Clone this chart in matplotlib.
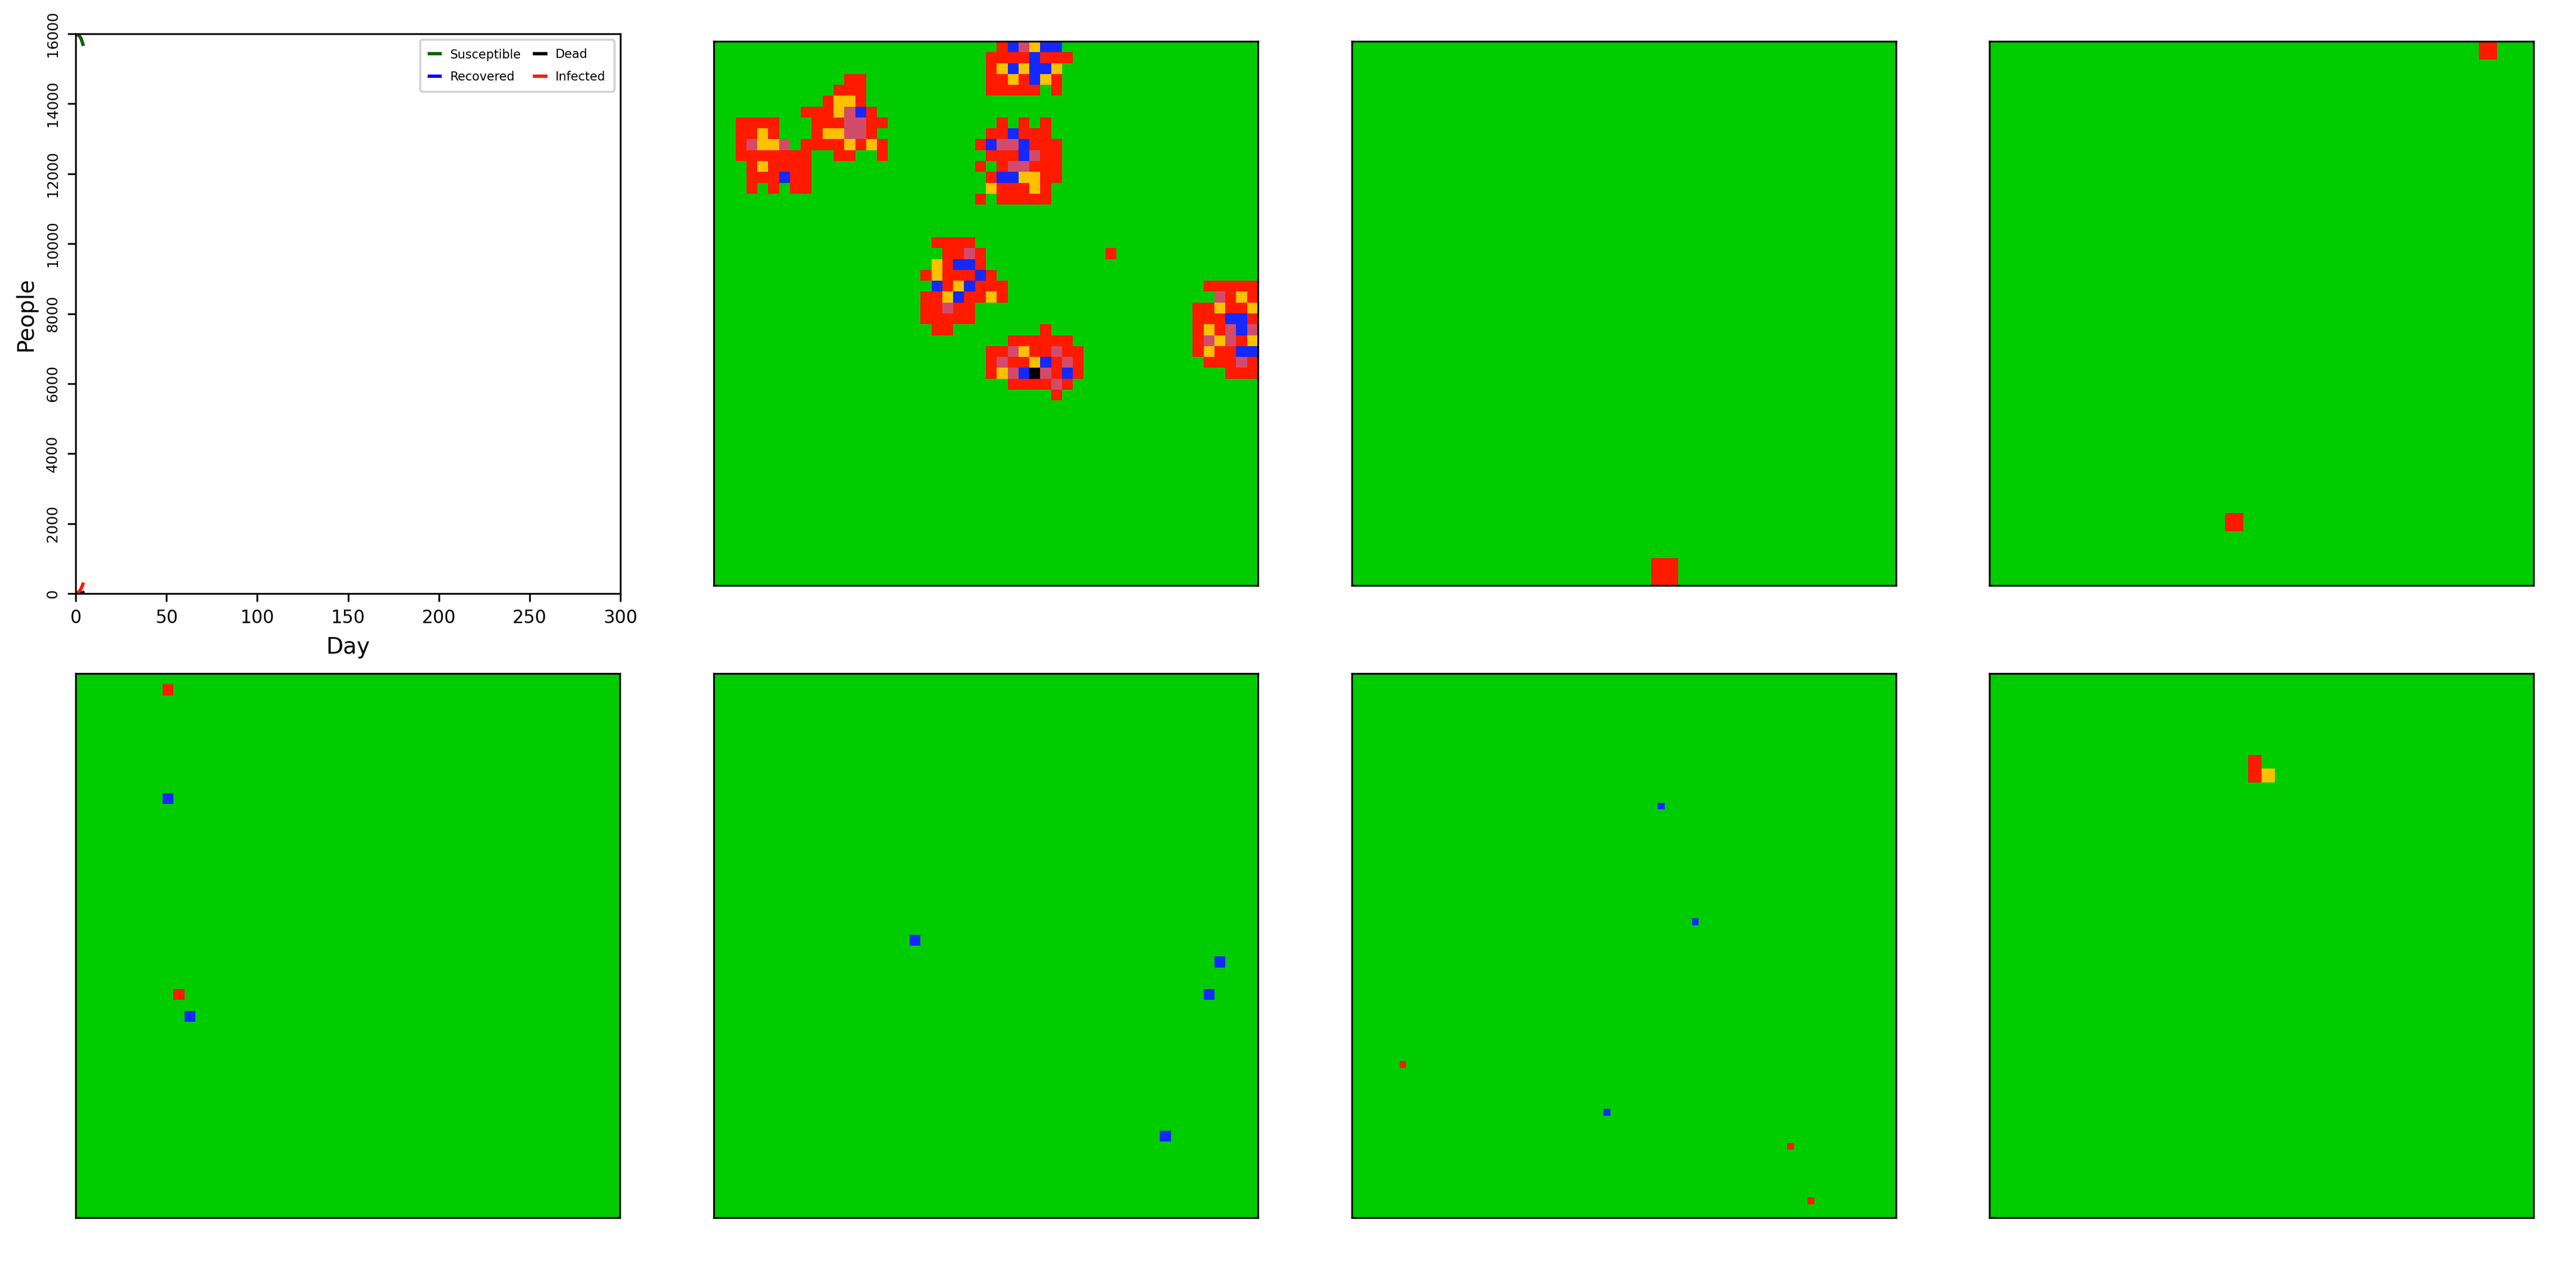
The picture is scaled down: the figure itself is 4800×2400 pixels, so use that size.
import matplotlib
matplotlib.use("Agg")
import matplotlib.pyplot as plt
import numpy as np
from matplotlib.colors import ListedColormap

# SIR-kurver (bare de første dagene er simulert)
dager = [0, 1, 2, 3, 4]
susceptible = [16000, 15985, 15940, 15860, 15700]
infected = [1, 15, 60, 140, 270]
recovered = [0, 0, 2, 10, 28]
dead = [0, 0, 0, 1, 2]

# tilstander: . frisk, R smittet, O inkubasjon, P syk, B immun, K død
tilstander = ".ROPBK"
farger = ["#00cc00", "#ff1a00", "#ffc000", "#d24b6b", "#1428ff", "#000000"]

# rutenett 2 (50x50): (rad, startkolonne, celler)
rader_2 = [
    (0, 26, "RBPOBB"),
    (1, 25, "RRRRBRRR"),
    (2, 25, "ROBOBBO"),
    (3, 12, "RR"), (3, 25, "RRORBOR"),
    (4, 11, "RRR"), (4, 25, "RRRRR.R"),
    (5, 10, "ROOR"),
    (6, 8, "RRROPBR"),
    (7, 2, "RRRR"), (7, 9, "RRRPPRR"), (7, 26, "R.R.R"),
    (8, 2, "RROR"), (8, 9, "ROOPPR"), (8, 25, "RRBRRR"),
    (9, 2, "RPOOP.RRRROROR"), (9, 24, "RBPPBRRR"),
    (10, 2, "RRRRRRR..RR..R"), (10, 25, "RRRBPRR"),
    (11, 3, "RORRRR"), (11, 24, "R.RPPRRR"),
    (12, 3, "RRRBRR"), (12, 25, "RBBOORR"),
    (13, 3, "R.R.RR"), (13, 25, "ORRROR"),
    (14, 24, "R.RRRRR"),
    (18, 20, "RRRR"),
    (19, 21, "RRPR"), (19, 36, "R"),
    (20, 20, "ORBBR"),
    (21, 19, "RORRRBR"),
    (22, 20, "BROBRRR"), (22, 45, "RRRRR"),
    (23, 19, "RROBRROR"), (23, 46, "PROR"),
    (24, 19, "RRPRR"), (24, 44, "RRORRO"),
    (25, 19, "RRRRR"), (25, 44, "RRRBBR"),
    (26, 20, "RR"), (26, 30, "R"), (26, 44, "RORPBP"),
    (27, 27, "RRRRRR"), (27, 44, "RPOPRO"),
    (28, 25, "RRPORRPRR"), (28, 44, "RORRBB"),
    (29, 25, "RPRROBRPR"), (29, 45, "RRRPR"),
    (30, 25, "ROPBKPRBR"), (30, 47, "RRR"),
    (31, 27, "RRRRPR"),
    (32, 31, "R"),
]
rader_3 = [(19, 11, "R")]
rader_4 = [(0, 27, "R"), (26, 13, "R")]
rader_5 = [(1, 8, "R"), (11, 8, "B"), (29, 9, "R"), (31, 10, "B")]
rader_6 = [(24, 18, "B"), (26, 46, "B"), (29, 45, "B"), (42, 41, "B")]
rader_7 = [(19, 45, "B"), (36, 50, "B"), (57, 7, "R"), (64, 37, "B"), (69, 64, "R"), (77, 67, "R")]
rader_8 = [(6, 19, "R"), (7, 19, "RO")]

storrelser = [50, 20, 30, 50, 50, 80, 40]
alle_rader = [rader_2, rader_3, rader_4, rader_5, rader_6, rader_7, rader_8]


def lag_rutenett(n, rader):
    grid = np.zeros((n, n), dtype=int)
    for rad, kol, celler in rader:
        for i, c in enumerate(celler):
            grid[rad, kol + i] = tilstander.index(c)
    return grid


fig = plt.figure(figsize=(16, 8), dpi=300)
W, H = 4800, 2400

# første panel: linjeplott
ax = fig.add_axes([141 / W, 1 - 1106 / H, 1015 / W, 1043 / H])
ax.plot(dager, susceptible, color="#006400", lw=1.5, label="Susceptible")
ax.plot(dager, recovered, color="#0000ff", lw=1.5, label="Recovered")
ax.plot(dager, dead, color="black", lw=1.5, label="Dead")
ax.plot(dager, infected, color="#ff1a00", lw=1.5, label="Infected")
ax.set_xlim(0, 300)
ax.set_ylim(0, 16000)
ax.set_xticks(range(0, 301, 50))
ax.set_yticks(range(0, 16001, 2000))
ax.tick_params(axis="x", labelsize=8)
ax.tick_params(axis="y", labelsize=6.5)
plt.setp(ax.get_yticklabels(), rotation=90, va="center")
ax.set_xlabel("Day", fontsize=10)
ax.set_ylabel("People", fontsize=10)
ax.legend(loc="upper right", ncol=2, fontsize=5.5, handlelength=0.9,
          columnspacing=1.1, labelspacing=0.8, borderpad=0.7)

# de andre panelene: rutenett
cmap = ListedColormap(farger)
venstre = [1330, 2519, 3707, 141, 1330, 2519, 3707]
topp = [77, 77, 77, 1255, 1255, 1255, 1255]
for n, rader, x0, y0 in zip(storrelser, alle_rader, venstre, topp):
    a = fig.add_axes([x0 / W, 1 - (y0 + 1014) / H, 1014 / W, 1014 / H])
    a.imshow(lag_rutenett(n, rader), cmap=cmap, vmin=0, vmax=5,
             interpolation="nearest", aspect="auto")
    a.set_xticks([])
    a.set_yticks([])

fig.savefig("out.png", dpi=300)
